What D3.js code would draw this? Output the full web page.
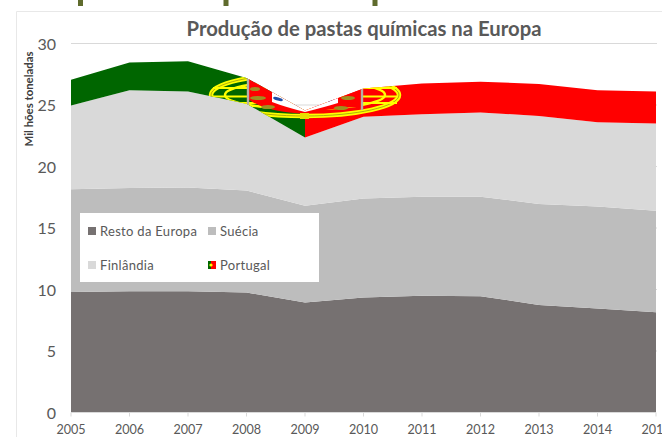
<!DOCTYPE html>
<html><head><meta charset="utf-8">
<script src="https://d3js.org/d3.v7.min.js"></script>
<style>html,body{margin:0;padding:0;background:#fff}svg{display:block}</style></head>
<body><svg id="c" width="662" height="437"></svg>
<script>
const years=[2005,2006,2007,2008,2009,2010,2011,2012,2013,2014,2015];
const resto=[9.8,9.85,9.85,9.75,8.95,9.35,9.5,9.45,8.75,8.45,8.15];
const suecia=[8.35,8.4,8.45,8.3,7.85,8.05,8.05,8.1,8.2,8.3,8.25];
const finlandia=[6.8,7.95,7.8,7.05,5.55,6.65,6.7,6.85,7.15,6.85,7.1];
const portugal=[2.1,2.25,2.45,2.1,2.2,2.3,2.5,2.5,2.6,2.6,2.6];
const seriesNames=["Resto da Europa","Suécia","Finlândia","Portugal"];
const seriesValues=[resto,suecia,finlandia,portugal];
const yTicks=[0,5,10,15,20,25,30];
const titleText="Produção de pastas químicas na Europa";
const yTitle="Mil hões toneladas";
const colors=["#767171","#bdbdbd","#d9d9d9"];
const font="Lato, 'Open Sans', sans-serif";
const svg=d3.select("#c");
const x=d3.scaleLinear().domain([2005,2015]).range([71,656]);
const y=d3.scaleLinear().domain([0,30]).range([412.5,43.5]);
// frame + top marks
svg.append("path").attr("d","M16.5,437V11.5H662").attr("fill","none").attr("stroke","#e8e8e8");
[80.5,226,375].forEach(px=>svg.append("rect").attr("x",px-2.5).attr("y",0).attr("width",5).attr("height",6).attr("fill","#5f6b2d"));
// grid
svg.append("g").selectAll("line").data(yTicks.slice(1)).join("line")
 .attr("x1",x(2005)).attr("x2",657).attr("y1",d=>y(d)).attr("y2",d=>y(d)).attr("stroke","#d9d9d9");
// stack
const rows=years.map((yr,i)=>{const o={yr};seriesNames.forEach((n,k)=>o[n]=seriesValues[k][i]);return o;});
const stacked=d3.stack().keys(seriesNames)(rows);
const area=d3.area().x(d=>x(d.data.yr)).y0(d=>y(d[0])).y1(d=>y(d[1]));
svg.append("g").selectAll("path").data(stacked.slice(0,3)).join("path").attr("d",area).attr("fill",(d,i)=>colors[i]);
// Portugal with flag fill
const defs=svg.append("defs");
defs.append("clipPath").attr("id","pt").append("path").attr("d",area(stacked[3]));
const g=svg.append("g").attr("clip-path","url(#pt)");
const cx=x(2009),cy=95;
g.append("rect").attr("x",x(2005)).attr("y",y(30)).attr("width",cx-x(2005)).attr("height",y(20)-y(30)).attr("fill","#006600");
g.append("rect").attr("x",cx).attr("y",y(30)).attr("width",x(2015)-cx).attr("height",y(20)-y(30)).attr("fill","#ff0000");
// armillary sphere
const ring=(rx,ry,w,col)=>g.append("ellipse").attr("cx",cx).attr("cy",cy).attr("rx",rx).attr("ry",ry).attr("fill","none").attr("stroke",col).attr("stroke-width",w);
ring(94,21,4.5,"#ffff00");ring(94,21,.7,"#8a8a10");ring(80,14,2.5,"#ffff00");
[-7,1.5,8].forEach(dy=>g.append("path").attr("d",`M${cx-92},${cy+dy}H${cx+92}`).attr("stroke","#ffff00").attr("stroke-width",2.2));
// shield
const outer=`M${cx-57},70H${cx+57}V${cy+12}Q${cx+30},${cy+12} ${cx},${cy+19}Q${cx-40},${cy+17} ${cx-57},${cy+4}Z`;
g.append("path").attr("d",outer).attr("fill","#ff0000");
const inner=`M${cx-33},70H${cx+33}V${cy+8}Q${cx+20},${cy+12} ${cx},${cy+17}Q${cx-20},${cy+12} ${cx-33},${cy+7}Z`;
g.append("path").attr("d",inner).attr("fill","#ffffff");
[-57,57].forEach(dx=>g.append("rect").attr("x",cx+dx-1.2).attr("y",70).attr("width",2.4).attr("height",40).attr("fill","#b5b0a8"));
[[-47,3,8],[-50,-6,5],[-37,12,7],[43,3,7],[36,13,7]].forEach(([dx,dy,rx])=>g.append("ellipse").attr("cx",cx+dx).attr("cy",cy+dy).attr("rx",rx).attr("ry",2).attr("fill","#a08f20"));
[[-27,4],[26,4]].forEach(([dx,dy])=>g.append("ellipse").attr("cx",cx+dx).attr("cy",cy+dy).attr("rx",5).attr("ry",1.6).attr("transform",`rotate(${dx<0?15:-25} ${cx+dx} ${cy+dy})`).attr("fill","#1f4ea8"));
g.append("rect").attr("x",cx-5).attr("y",cy+18).attr("width",9).attr("height",6).attr("fill","#e8e000");
// axes
const fillT="#595959";
svg.append("g").selectAll("text").data(yTicks).join("text").attr("x",56).attr("y",d=>y(d)+6).attr("text-anchor","end")
 .attr("font-family",font).attr("font-size",16).attr("fill",fillT).text(d=>d);
const xg=svg.append("g");
xg.selectAll("line").data(years).join("line").attr("x1",d=>x(d)).attr("x2",d=>x(d)).attr("y1",y(0)).attr("y2",y(0)+4).attr("stroke","#d9d9d9");
svg.append("line").attr("x1",x(2005)).attr("x2",x(2015)).attr("y1",y(0)).attr("y2",y(0)).attr("stroke","#d9d9d9");
xg.selectAll("text").data(years).join("text").attr("x",d=>x(d)).attr("y",434).attr("text-anchor","middle")
 .attr("font-family",font).attr("font-size",12.6).attr("fill",fillT).text(d=>d);
svg.append("text").attr("transform",`translate(33,99) rotate(-90)`).attr("text-anchor","middle")
 .attr("font-family",font).attr("font-weight",700).attr("font-size",11.4).attr("fill","#404040").text(yTitle);
svg.append("text").attr("x",364).attr("y",36).attr("text-anchor","middle").attr("font-family",font).attr("font-weight",700).attr("font-size",20.3).attr("fill",fillT).text(titleText);
// legend
svg.append("rect").attr("x",80).attr("y",213).attr("width",239).attr("height",69).attr("fill","#fff");
const lg=[[88,231],[208,231],[88,265],[208,265]];
seriesNames.forEach((n,i)=>{
 const [lx,ly]=lg[i];
 if(i<3) svg.append("rect").attr("x",lx).attr("y",ly-4).attr("width",8).attr("height",8).attr("fill",colors[i]);
 else{
  svg.append("rect").attr("x",lx).attr("y",ly-4).attr("width",3).attr("height",8).attr("fill","#006600");
  svg.append("rect").attr("x",lx+3).attr("y",ly-4).attr("width",5).attr("height",8).attr("fill","#ff0000");
  svg.append("circle").attr("cx",lx+3).attr("cy",ly).attr("r",1.6).attr("fill","#ffff00");
 }
 svg.append("text").attr("x",lx+12).attr("y",ly+4.5).attr("font-family",font).attr("font-size",13).attr("letter-spacing",0.3).attr("fill",fillT).text(n);
});
</script></body></html>
